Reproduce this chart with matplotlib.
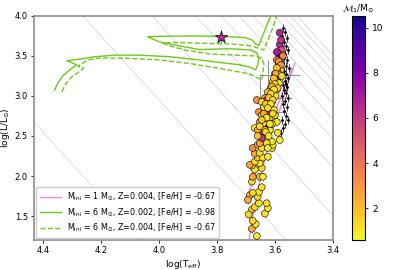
import numpy as np
import matplotlib
matplotlib.use('Agg')
import matplotlib.pyplot as plt
from matplotlib.lines import Line2D

# radii (R_sun) of the constant-radius lines
radii = [1, 10, 30, 60, 90, 120, 150, 180, 210, 240, 270, 300]
LOGT_SUN = 3.7617

# tracks
trk1_T = [3.693, 3.676, 3.659, 3.641, 3.624, 3.603, 3.583, 3.560, 3.531]
trk1_L = [1.10, 1.50, 1.825, 2.10, 2.39, 2.62, 2.825, 3.10, 3.41]
trk1b_T = [3.686, 3.697, 3.680, 3.666, 3.650, 3.634, 3.610, 3.590, 3.565, 3.541]
trk1b_L = [1.775, 1.725, 1.90, 2.075, 2.27, 2.45, 2.68, 2.89, 3.12, 3.35]

trk6a_T = [4.359, 4.348, 4.331, 4.307, 4.283, 4.317, 4.272, 4.221, 4.152, 4.066,
           3.962, 3.859, 3.772, 3.721, 3.686, 3.666, 3.659, 3.655, 3.662, 3.686,
           3.755, 3.859, 3.928, 3.962, 3.997, 4.038, 3.997, 3.893, 3.790, 3.703,
           3.679, 3.666, 3.655, 3.645, 3.631, 3.614, 3.608]
trk6a_L = [3.075, 3.16, 3.25, 3.325, 3.39, 3.44, 3.46, 3.49, 3.51, 3.51,
           3.49, 3.45, 3.41, 3.39, 3.36, 3.325, 3.39, 3.475, 3.54, 3.575,
           3.59, 3.58, 3.625, 3.65, 3.675, 3.74, 3.745, 3.75, 3.745, 3.73,
           3.70, 3.65, 3.63, 3.725, 3.85, 4.0, 4.1]

trk6b_T = [4.334, 4.321, 4.300, 4.272, 4.259, 4.279, 4.245, 4.203, 4.100, 3.997,
           3.893, 3.807, 3.738, 3.686, 3.659, 3.645, 3.641, 3.638, 3.645, 3.669,
           3.738, 3.824, 3.910, 3.962, 3.986, 3.945, 3.859, 3.755, 3.686, 3.659,
           3.638, 3.624, 3.607, 3.593, 3.587]
trk6b_L = [3.05, 3.15, 3.24, 3.31, 3.35, 3.37, 3.45, 3.475, 3.47, 3.45,
           3.405, 3.355, 3.31, 3.275, 3.225, 3.20, 3.30, 3.40, 3.475, 3.50,
           3.51, 3.525, 3.575, 3.625, 3.66, 3.67, 3.66, 3.65, 3.63, 3.60,
           3.575, 3.70, 3.85, 4.0, 4.1]

# coloured sample: log Teff, log L, M1
teff = [3.662, 3.679, 3.666, 3.676, 3.634, 3.624, 3.628, 3.679, 3.669, 3.655,
        3.686, 3.659, 3.655, 3.645, 3.676, 3.652, 3.641, 3.679, 3.676, 3.669,
        3.645, 3.652, 3.679, 3.686, 3.669, 3.659, 3.641, 3.624, 3.669, 3.652,
        3.676, 3.659, 3.645, 3.610, 3.607, 3.610, 3.583, 3.590, 3.641, 3.652,
        3.628, 3.624, 3.693, 3.690,
        3.583, 3.583, 3.576, 3.586, 3.583, 3.572, 3.586, 3.593, 3.590, 3.579,
        3.590, 3.600, 3.583, 3.590, 3.597, 3.607, 3.586, 3.600, 3.614, 3.593,
        3.607, 3.624, 3.617, 3.597, 3.634, 3.628, 3.662, 3.645, 3.610, 3.617,
        3.638, 3.624, 3.655, 3.645, 3.603, 3.617, 3.634, 3.652, 3.631, 3.624,
        3.641, 3.669, 3.659, 3.617, 3.634, 3.600, 3.593, 3.610, 3.645,
        3.586, 3.579, 3.593, 3.597, 3.576, 3.603, 3.600, 3.610, 3.590, 3.603,
        3.614, 3.621, 3.607, 3.631, 3.614, 3.624, 3.607, 3.638, 3.628, 3.645,
        3.617, 3.652, 3.631, 3.659, 3.621, 3.579, 3.593]
lum = [1.25, 1.34, 1.40, 1.44, 1.53, 1.60, 1.66, 1.58, 1.61, 1.66,
       1.76, 1.74, 1.80, 1.86, 1.79, 1.99, 1.99, 1.93, 1.99, 2.08,
       2.10, 2.16, 2.13, 2.14, 2.18, 2.23, 2.23, 2.24, 2.28, 2.29,
       2.35, 2.39, 2.35, 2.35, 2.39, 2.43, 2.45, 2.54, 2.51, 2.41,
       2.41, 2.35, 1.70, 1.52,
       3.79, 3.64, 3.575, 3.525, 3.475, 3.50, 3.41, 3.45, 3.36, 3.325,
       3.30, 3.275, 3.26, 3.225, 3.20, 3.175, 3.16, 3.125, 3.10, 3.075,
       3.05, 3.05, 3.00, 3.00, 2.975, 2.95, 2.95, 2.925, 2.925, 2.875,
       2.86, 2.80, 2.80, 2.76, 2.825, 2.725, 2.70, 2.675, 2.64, 2.60,
       2.54, 2.60, 2.575, 2.575, 2.575, 2.76, 2.675, 2.65, 2.475,
       3.43, 3.39, 3.35, 3.28, 3.25, 3.22, 3.15, 3.12, 3.10, 3.08,
       3.03, 2.98, 2.95, 2.90, 2.90, 2.85, 2.78, 2.78, 2.73, 2.70,
       2.65, 2.62, 2.55, 2.50, 2.50, 3.70, 3.55]
mass = [1.0, 2.6, 1.0, 1.3, 1.2, 1.0, 1.3, 1.9, 1.3, 1.0,
        2.6, 1.3, 1.0, 1.2, 1.3, 1.9, 1.0, 1.3, 2.6, 1.0,
        1.3, 1.0, 1.3, 2.6, 1.3, 1.9, 1.0, 1.0, 2.6, 1.3,
        3.2, 2.6, 1.3, 1.0, 0.9, 1.0, 0.9, 1.0, 1.3, 2.6,
        1.3, 1.0, 2.6, 1.3,
        6.5, 6.5, 5.0, 4.0, 10.5, 3.5, 3.5, 4.0, 2.6, 1.9,
        2.6, 1.3, 1.3, 9.0, 2.6, 1.3, 1.0, 3.2, 1.3, 1.0,
        2.6, 1.9, 1.0, 1.3, 2.6, 6.5, 3.2, 1.3, 1.0, 2.6,
        1.0, 6.5, 3.2, 1.3, 1.0, 1.9, 0.9, 2.6, 1.3, 9.0,
        5.5, 1.0, 2.6, 1.0, 1.9, 0.9, 1.0, 1.3, 6.0,
        2.6, 3.2, 1.9, 2.6, 1.3, 1.9, 1.3, 2.6, 1.9, 1.0,
        1.3, 1.9, 1.3, 1.9, 1.0, 1.3, 1.3, 2.6, 1.0, 1.9,
        1.0, 1.3, 1.3, 1.9, 1.0, 6.0, 7.0]

# a few stars with large uncertainties
big_T = [3.583, 3.600, 3.603, 3.652, 3.624]
big_L = [3.26, 2.975, 2.80, 2.95, 3.00]
big_xerr = [0.07, 0.06, 0.04, 0.01, 0.01]
big_yerr = [0.05, 0.05, 0.05, 0.30, 0.45]

# black comparison sample
blk_T = [3.572, 3.566, 3.576, 3.559, 3.569, 3.562, 3.572, 3.555, 3.566, 3.569,
         3.559, 3.572, 3.562, 3.552, 3.569, 3.562, 3.576, 3.555, 3.566, 3.572,
         3.559, 3.569, 3.562, 3.576, 3.555, 3.566, 3.572, 3.559, 3.569, 3.562,
         3.576, 3.566, 3.572, 3.579, 3.555, 3.579, 3.562]
blk_L = [3.85, 3.80, 3.75, 3.725, 3.675, 3.625, 3.59, 3.575, 3.525, 3.475,
         3.45, 3.41, 3.375, 3.35, 3.31, 3.275, 3.24, 3.225, 3.19, 3.14,
         3.11, 3.075, 3.04, 3.00, 2.975, 2.94, 2.90, 2.86, 2.81, 2.75,
         2.70, 2.65, 2.60, 2.54, 2.70, 3.70, 3.15]

star_T, star_L, star_M = 3.786, 3.74, 6.5

fig = plt.figure(figsize=(4.15, 2.70), dpi=100)
ax = fig.add_axes([0.082, 0.111, 0.72, 0.83])
cax = fig.add_axes([0.848, 0.111, 0.031, 0.83])

tgrid = np.linspace(3.3, 4.6, 60)
for r in radii:
    ax.plot(tgrid, 2 * np.log10(r) + 4 * (tgrid - LOGT_SUN), color='0.82', lw=0.5, zorder=0)

green = '#72c61c'
pink = '#e38be3'
ax.plot(trk6a_T, trk6a_L, color=green, lw=1.0, zorder=1)
ax.plot(trk6b_T, trk6b_L, color=green, lw=1.0, ls='--', zorder=1)
ax.plot(trk1_T, trk1_L, color=pink, lw=1.0, zorder=1.5)
ax.plot(trk1b_T, trk1b_L, color=pink, lw=1.0, zorder=1.5)

ax.errorbar(blk_T, blk_L, xerr=0.004, yerr=0.05, fmt='.', color='k', ms=2,
            elinewidth=0.5, zorder=2)
ax.errorbar(big_T, big_L, xerr=big_xerr, yerr=big_yerr, fmt='none', ecolor='0.55',
            elinewidth=0.7, zorder=2)
ax.errorbar(teff, lum, xerr=0.006, yerr=0.05, fmt='none', ecolor='0.6',
            elinewidth=0.6, zorder=2)
sc = ax.scatter(teff, lum, c=mass, cmap='plasma_r', vmin=0.58, vmax=10.53,
                edgecolors='k', linewidths=0.4, s=24, zorder=3)
ax.errorbar([star_T], [star_L], yerr=0.08, xerr=0.005, fmt='none', ecolor='0.4',
            elinewidth=0.6, zorder=3)
ax.scatter([star_T], [star_L], c=[star_M], cmap='plasma_r', vmin=0.58, vmax=10.53,
           marker='*', s=85, edgecolors='k', linewidths=0.5, zorder=4)

ax.set_xlim(4.43, 3.4)
ax.set_ylim(1.2, 4.0)
ax.set_xticks([4.4, 4.2, 4.0, 3.8, 3.6, 3.4])
ax.set_yticks([1.5, 2.0, 2.5, 3.0, 3.5, 4.0])
ax.tick_params(labelsize=6, length=2.5, width=0.6, pad=2)
for sp in ax.spines.values():
    sp.set_color('0.55')
    sp.set_linewidth(1.2)
ax.set_xlabel(r'log(T$_{\rm eff}$)', fontsize=6.5, labelpad=2)
ax.set_ylabel(r'log(L/L$_{\odot}$)', fontsize=6.5, labelpad=2)

handles = [Line2D([], [], color=pink, lw=1.0),
           Line2D([], [], color=green, lw=1.0),
           Line2D([], [], color=green, lw=1.0, ls='--')]
labels = [r'M$_{\rm ini}$ = 1 M$_{\odot}$, Z=0.004, [Fe/H] = -0.67',
          r'M$_{\rm ini}$ = 6 M$_{\odot}$, Z=0.002, [Fe/H] = -0.98',
          r'M$_{\rm ini}$ = 6 M$_{\odot}$, Z=0.004, [Fe/H] = -0.67']
ax.legend(handles, labels, loc='lower left', fontsize=5.8, handlelength=2.6,
          borderaxespad=0.3, labelspacing=0.4, framealpha=1)

cb = fig.colorbar(sc, cax=cax)
cb.set_ticks([2, 4, 6, 8, 10])
cb.ax.tick_params(labelsize=6.5, length=2, width=0.6)
cb.outline.set_linewidth(0.8)
cb.ax.set_title(r'$\mathcal{M}_1/\mathrm{M}_{\odot}$', fontsize=6.5, pad=3)

fig.savefig('out.png', dpi=100)
